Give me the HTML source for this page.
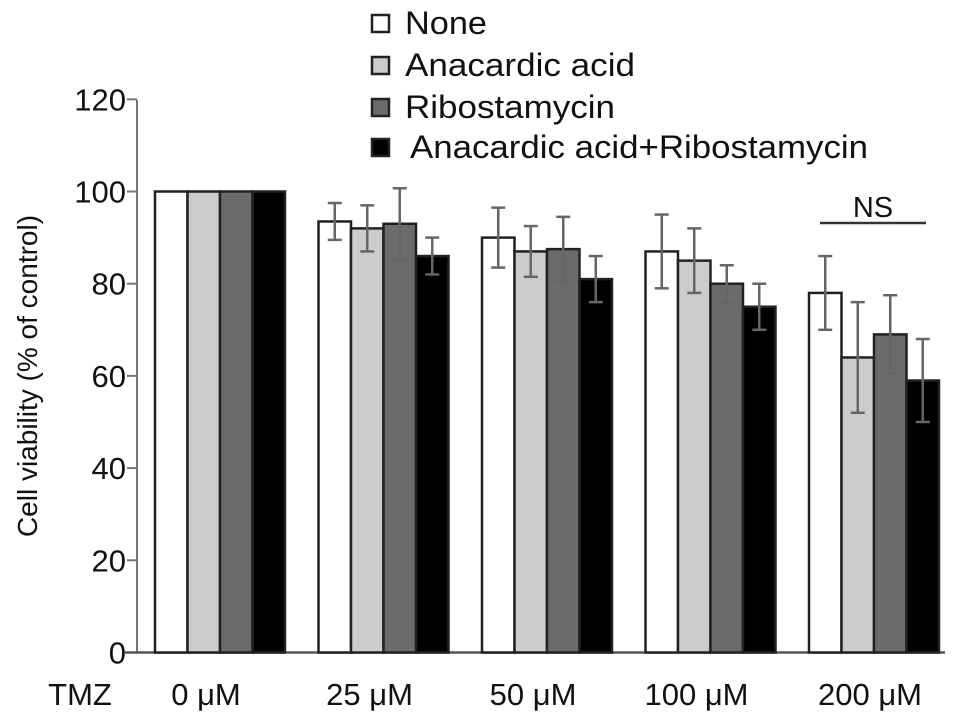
<!DOCTYPE html>
<html><head><meta charset="utf-8"><style>
body{margin:0;background:#fff}
svg{display:block;font-family:"Liberation Sans",Arial,sans-serif}
</style></head><body>
<svg id="chart" width="969" height="726" viewBox="0 0 969 726"></svg>
<script>
const categories=["0 μM","25 μM","50 μM","100 μM","200 μM"];
const seriesNames=["None","Anacardic acid","Ribostamycin","Anacardic acid+Ribostamycin"];
const noneVals=[100,93.5,90,87,78];
const anaVals=[100,92,87,85,64];
const riboVals=[100,93,87.5,80,69];
const comboVals=[100,86,81,75,59];
const noneErr=[0,4,6.5,8,8];
const anaErr=[0,5,5.5,7,12];
const riboErr=[0,7.7,7,4,8.5];
const comboErr=[0,4,5,5,9];
const yTicks=[0,20,40,60,80,100,120];

const svg=document.getElementById('chart');
const NS='http://www.w3.org/2000/svg';
function mk(tag,attrs,parent){const e=document.createElementNS(NS,tag);for(const k in attrs)e.setAttribute(k,attrs[k]);(parent||svg).appendChild(e);return e;}
const y0=652.5,yPer=4.61;
function yScale(v){return y0-v*yPer;}
const groupStart=155,groupStep=163.5,barW=32.5;
function xScale(gi,si){return groupStart+gi*groupStep+si*barW;}
const fills=["#ffffff","#cccccc","#6b6b6b","#000000"];
const vals=[noneVals,anaVals,riboVals,comboVals];
const errs=[noneErr,anaErr,riboErr,comboErr];

const ax=mk('line',{x1:137,y1:100,x2:137,y2:y0,stroke:'#777','stroke-width':2});


yTicks.forEach(t=>{
  const tk=mk('line',{x1:127,y1:yScale(t),x2:137,y2:yScale(t),stroke:'#777','stroke-width':2});
  
  
  const tl=mk('text',{x:126,y:yScale(t)+11,'text-anchor':'end','font-size':31,fill:'#111'});
  tl.textContent=t;
  
  
});
const base=mk('line',{x1:125,y1:y0,x2:945,y2:y0,stroke:'#555','stroke-width':2.5});


const yt=mk('text',{x:0,y:0,transform:'translate(37,376) rotate(-90)','text-anchor':'middle','font-size':28,fill:'#111'});
yt.textContent='Cell viability (% of control)';



categories.forEach((c,gi)=>{
  vals.forEach((arr,si)=>{
    const x=xScale(gi,si),v=arr[gi];
    const r=mk('rect',{x:x,y:yScale(v),width:barW,height:y0-yScale(v),fill:fills[si],stroke:'#222','stroke-width':2.5});
    
    
    const e=errs[si][gi];
    if(e>0){
      const cx=x+barW/2;
      const g=mk('g',{stroke:'#666','stroke-width':2.5});
      
      
      mk('line',{x1:cx,y1:yScale(v+e),x2:cx,y2:yScale(v-e)},g);
      mk('line',{x1:cx-7,y1:yScale(v+e),x2:cx+7,y2:yScale(v+e)},g);
      mk('line',{x1:cx-7,y1:yScale(v-e),x2:cx+7,y2:yScale(v-e)},g);
    }
  });
  const lx=xScale(gi,0)+barW*2-(gi<4?14:4);
  const t=mk('text',{x:lx,y:705,'text-anchor':'middle','font-size':31,fill:'#111'});
  t.textContent=c;
  
  
});
const tmz=mk('text',{x:80,y:705,'text-anchor':'middle','font-size':31,fill:'#111'});
tmz.textContent='TMZ';



const nsl=mk('line',{x1:820,y1:223,x2:926,y2:223,stroke:'#333','stroke-width':2.5});


const nst=mk('text',{x:873,y:217,'text-anchor':'middle','font-size':29,fill:'#111'});
nst.textContent='NS';



const legY=[23,65,107,147];
const legLen=[82,230,210,458];
seriesNames.forEach((n,i)=>{
  const g=mk('g',{});
  
  
  mk('rect',{x:372,y:legY[i]-8,width:17,height:17,fill:fills[i],stroke:'#222','stroke-width':2.5},g);
  const t=mk('text',{x:i==3?410:405,y:legY[i]+11,'font-size':32,fill:'#111',textLength:legLen[i],lengthAdjust:'spacingAndGlyphs'},g);
  t.textContent=n;
});
</script>
</body></html>
